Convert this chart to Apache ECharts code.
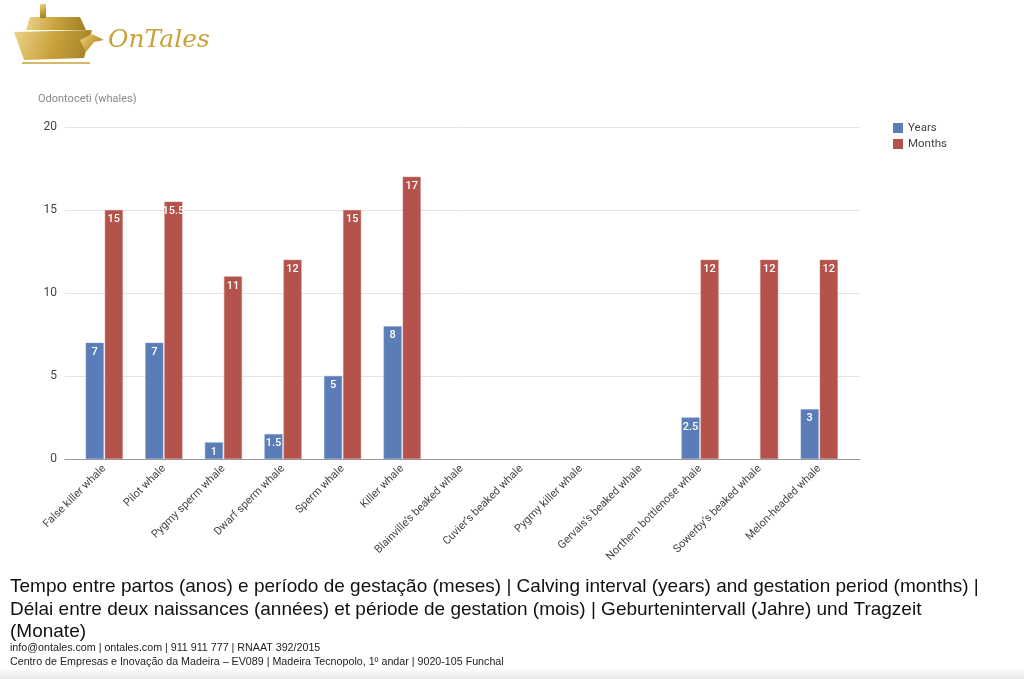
<!DOCTYPE html>
<html>
<head>
<meta charset="utf-8">
<title>OnTales - Odontoceti</title>
<script src="https://cdn.jsdelivr.net/npm/echarts@6/dist/echarts.min.js"></script>
<style>
  html, body { margin: 0; padding: 0; background: #fff; }
  #chart { width: 1024px; height: 679px; }
</style>
</head>
<body>
<div id="chart"></div>
<script>
// data
const categories = [
  'False killer whale', 'Pilot whale', 'Pygmy sperm whale', 'Dwarf sperm whale',
  'Sperm whale', 'Killer whale', 'Blainville\u2019s beaked whale', 'Cuvier\u2019s beaked whale',
  'Pygmy killer whale', 'Gervais\u2019s beaked whale', 'Northern bottlenose whale',
  'Sowerby\u2019s beaked whale', 'Melon-headed whale'
]
const years = [7, 7, 1, 1.5, 5, 8, null, null, null, null, 2.5, null, 3]
const months = [15, 15.5, 11, 12, 15, 17, null, null, null, null, 12, 12, 12]
const yTicks = [0, 5, 10, 15, 20]

const titleLines = [
  'Tempo entre partos (anos) e período de gestação (meses) | Calving interval (years) and gestation period (months) |',
  'Délai entre deux naissances (années) et période de gestation (mois) | Geburtenintervall (Jahre) und Tragzeit',
  '(Monate)'
]
const footerLines = [
  'info@ontales.com | ontales.com | 911 911 777 | RNAAT 392/2015',
  'Centro de Empresas e Inovação da Madeira – EV089 | Madeira Tecnopolo, 1º andar | 9020-105 Funchal'
]

const FONT = 'Roboto, Arial, sans-serif'
const GOLD = '#c9a23c'
const gold = {
  type: 'linear', x: 0, y: 0, x2: 1, y2: 1,
  colorStops: [{ offset: 0, color: '#ecd488' }, { offset: 0.5, color: '#c9a23c' }, { offset: 1, color: '#a07e26' }]
}

const chart = echarts.init(document.getElementById('chart'))

const barLabel = {
  show: true, position: 'insideTop', distance: 4,
  color: '#fff', fontSize: 11, fontFamily: FONT, fontWeight: 500
}

const option = {
  backgroundColor: '#fff',
  animation: false,
  textStyle: { fontFamily: FONT },
  legend: {
    orient: 'vertical', left: 888, top: 117,
    itemWidth: 10, itemHeight: 10, itemGap: 4,
    icon: 'rect',
    itemStyle: { borderWidth: 0 },
    textStyle: { fontSize: 11.5, color: '#444', fontFamily: FONT },
    data: ['Years', 'Months']
  },
  grid: [
    { left: 74.5, right: 175, top: 127, bottom: 220 },
    { left: 65, right: 164, top: 127, bottom: 220 }
  ],
  xAxis: [
    {
      type: 'category', gridIndex: 0, data: categories,
      axisLine: { show: false }, axisTick: { show: false },
      axisLabel: { rotate: 45, fontSize: 11, color: '#444', margin: 8, interval: 0, fontFamily: FONT }
    },
    {
      type: 'category', gridIndex: 1, data: categories,
      axisLine: { show: true, lineStyle: { color: '#999', width: 1 } },
      axisTick: { show: false }, axisLabel: { show: false }
    }
  ],
  yAxis: [
    {
      type: 'value', gridIndex: 0, min: 0, max: 20, interval: 5,
      axisLabel: { show: false }, splitLine: { show: false },
      axisLine: { show: false }, axisTick: { show: false }
    },
    {
      type: 'value', gridIndex: 1, min: yTicks[0], max: yTicks[yTicks.length - 1], interval: 5,
      axisLabel: { fontSize: 12, color: '#444', margin: 8, fontFamily: FONT },
      splitLine: { lineStyle: { color: '#e4e4e4', width: 1 } },
      axisLine: { show: false }, axisTick: { show: false }
    }
  ],
  series: [
    {
      name: 'Years', type: 'bar', xAxisIndex: 0, yAxisIndex: 0,
      data: years, barWidth: 18, barGap: '6%',
      itemStyle: { color: '#5a7db8', borderColor: '#7d9acb', borderWidth: 0.5 },
      label: barLabel
    },
    {
      name: 'Months', type: 'bar', xAxisIndex: 0, yAxisIndex: 0,
      data: months, barWidth: 18,
      itemStyle: { color: '#b4534c', borderColor: '#c87a74', borderWidth: 0.5 },
      label: barLabel
    }
  ],
  graphic: [
    // logo (rough ship + wordmark)
    { type: 'polygon', shape: { points: [[14, 32], [92, 30], [84, 58], [24, 60]] }, style: { fill: gold } },
    { type: 'polygon', shape: { points: [[26, 30], [30, 17], [80, 17], [86, 30]] }, style: { fill: gold } },
    { type: 'rect', shape: { x: 40, y: 4, width: 6, height: 14 }, style: { fill: gold } },
    { type: 'polygon', shape: { points: [[80, 40], [92, 34], [104, 40], [94, 42], [86, 52]] }, style: { fill: gold } },
    { type: 'line', shape: { x1: 22, y1: 63, x2: 90, y2: 63 }, style: { stroke: GOLD, lineWidth: 1.5 } },
    {
      type: 'text', left: 108, top: 28,
      style: { text: 'OnTales', font: 'italic 25px "DejaVu Serif", serif', fill: GOLD }
    },
    // y-axis name
    {
      type: 'text', left: 38, top: 94,
      style: { text: 'Odontoceti (whales)', font: '11px ' + FONT, fill: '#888' }
    },
    // caption
    {
      type: 'text', left: 10, top: 576,
      style: { text: titleLines.join('\n'), font: '19px "Liberation Sans", Arial, sans-serif', fill: '#111', lineHeight: 22.5 }
    },
    {
      type: 'text', left: 10, top: 641,
      style: { text: footerLines.join('\n'), font: '10.7px "Liberation Sans", Arial, sans-serif', fill: '#222', lineHeight: 14 }
    },
    {
      type: 'rect', shape: { x: 0, y: 668, width: 1024, height: 11 },
      style: {
        fill: { type: 'linear', x: 0, y: 0, x2: 0, y2: 1, colorStops: [{ offset: 0, color: '#ffffff' }, { offset: 1, color: '#e6e6e6' }] }
      }
    }
  ]
}

chart.setOption(option)
window.addEventListener('resize', () => chart.resize())
</script>
</body>
</html>
